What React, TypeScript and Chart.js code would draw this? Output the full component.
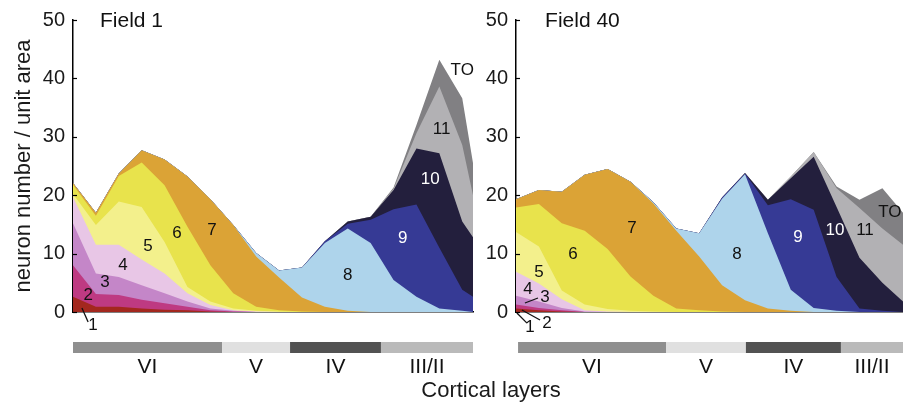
import React, { useEffect, useRef } from 'react';
import { Chart, registerables } from 'chart.js';

Chart.register(...registerables);

const FONT = '"Liberation Sans", Arial, Helvetica, sans-serif';

// ---------- shared ----------
const seriesNames = ['1', '2', '3', '4', '5', '6', '7', '8', '9', '10', '11', 'TO'];
const seriesColors = [
  '#a3281e', '#be3a82', '#c486c8', '#e8c6e6', '#f3f08c', '#e8e34c',
  '#dba336', '#aed4eb', '#363a95', '#231f3d', '#b2b1b4', '#818083',
];
const yTickValues = [0, 10, 20, 30, 40, 50];
const layerNames = ['VI', 'V', 'IV', 'III/II'];
const layerColors = ['#8f8f8f', '#e0e0e0', '#525252', '#bababa'];

// ---------- Field 1 ----------
const field1X = [0, 1, 2, 3, 4, 5, 6, 7, 8, 9, 10, 11, 12, 13, 14, 15, 16, 17, 17.47];
const f1_1 = [2.6, 0.9, 0.9, 0.6, 0.4, 0.3, 0.1, 0, 0, 0, 0, 0, 0, 0, 0, 0, 0, 0, 0];
const f1_2 = [5.4, 2.2, 2.0, 1.5, 1.1, 0.6, 0.2, 0.1, 0, 0, 0, 0, 0, 0, 0, 0, 0, 0, 0];
const f1_3 = [7.2, 3.5, 3.1, 2.5, 1.7, 0.9, 0.3, 0.1, 0, 0, 0, 0, 0, 0, 0, 0, 0, 0, 0];
const f1_4 = [4.5, 4.9, 5.5, 4.4, 3.4, 1.4, 0.6, 0.1, 0.1, 0, 0, 0, 0, 0, 0, 0, 0, 0, 0];
const f1_5 = [0.5, 3.4, 7.4, 9.0, 5.4, 1.1, 0.6, 0.3, 0.1, 0.1, 0, 0, 0, 0, 0, 0, 0, 0, 0];
const f1_6 = [1.6, 1.6, 4.4, 7.6, 9.7, 10.3, 6.2, 2.6, 0.7, 0.2, 0.1, 0, 0, 0, 0, 0, 0, 0, 0];
const f1_7 = [0.3, 0.5, 0.4, 2.1, 4.4, 8.6, 11.3, 11.7, 8.6, 5.6, 2.4, 0.9, 0.2, 0, 0, 0, 0, 0, 0];
const f1_8 = [0, 0, 0, 0, 0, 0, 0, 0, 0.6, 1.2, 5.1, 10.9, 14.1, 11.8, 5.5, 2.6, 0.6, 0.2, 0];
const f1_9 = [0, 0, 0, 0, 0, 0, 0, 0, 0, 0, 0, 0.3, 0.8, 4.0, 12.1, 15.8, 10.4, 3.6, 2.6];
const f1_10 = [0, 0, 0, 0, 0, 0, 0, 0, 0, 0, 0, 0, 0.4, 0.5, 3.3, 9.6, 16.2, 11.7, 10.2];
const f1_11 = [0, 0, 0, 0, 0, 0, 0, 0, 0, 0, 0, 0, 0, 0, 0.2, 2.6, 11.4, 13.1, 7.2];
const f1_TO = [0, 0, 0, 0, 0, 0, 0, 0, 0, 0, 0, 0, 0, 0, 0.2, 1.4, 4.6, 8.0, 5.5];
const field1LayerBounds = [0, 6.51, 9.48, 13.45, 17.47];

// ---------- Field 40 ----------
const field40X = [0, 1, 2, 3, 4, 5, 6, 7, 8, 9, 10, 11, 12, 13, 14, 15, 16, 16.9];
const f40_1 = [0.6, 0.3, 0.1, 0, 0, 0, 0, 0, 0, 0, 0, 0, 0, 0, 0, 0, 0, 0];
const f40_2 = [0.7, 0.4, 0.2, 0, 0, 0, 0, 0, 0, 0, 0, 0, 0, 0, 0, 0, 0, 0];
const f40_3 = [1.5, 1.1, 0.4, 0.1, 0, 0, 0, 0, 0, 0, 0, 0, 0, 0, 0, 0, 0, 0];
const f40_4 = [4.1, 3.1, 1.5, 0.2, 0.1, 0, 0, 0, 0, 0, 0, 0, 0, 0, 0, 0, 0, 0];
const f40_5 = [6.8, 6.3, 1.5, 1.0, 0.4, 0.2, 0.1, 0, 0, 0, 0, 0, 0, 0, 0, 0, 0, 0];
const f40_6 = [4.2, 7.3, 11.5, 12.6, 10.3, 5.9, 2.7, 0.6, 0.3, 0.1, 0, 0, 0, 0, 0, 0, 0, 0];
const f40_7 = [1.4, 2.4, 5.4, 9.6, 13.7, 16.2, 15.8, 13.3, 9.2, 4.5, 2.0, 0.6, 0.2, 0, 0, 0, 0, 0];
const f40_8 = [0, 0, 0, 0, 0, 0, 0.2, 0.4, 4.0, 14.8, 21.6, 12.9, 3.6, 0.7, 0.2, 0, 0, 0];
const f40_9 = [0, 0, 0, 0, 0, 0, 0, 0, 0, 0.2, 0.1, 4.8, 15.5, 16.8, 5.8, 0.6, 0.2, 0];
const f40_10 = [0, 0, 0, 0, 0, 0, 0, 0, 0, 0, 0.1, 0.9, 3.6, 9.1, 12.0, 8.7, 4.8, 1.8];
const f40_11 = [0, 0, 0, 0, 0, 0, 0, 0, 0, 0, 0, 0, 0.3, 0.8, 3.2, 8.5, 9.3, 9.7];
const f40_TO = [0, 0, 0, 0, 0, 0, 0, 0, 0, 0, 0, 0, 0, 0, 0.3, 1.4, 6.9, 5.5];
const field40LayerBounds = [0.09, 6.55, 10.04, 14.19, 16.9];

// area labels: [text, x, y, colour]
const field1Labels: [string, number, number, string][] = [
  ['1', 0.87, -2.2, '#111'], ['2', 0.66, 2.9, '#111'], ['3', 1.4, 5.0, '#111'],
  ['4', 2.18, 8.0, '#111'], ['5', 3.28, 11.3, '#111'], ['6', 4.54, 13.5, '#111'],
  ['7', 6.07, 14.0, '#111'], ['8', 12.0, 6.3, '#111'], ['9', 14.4, 12.7, '#fff'],
  ['10', 15.6, 22.8, '#fff'], ['11', 16.1, 31.3, '#111'], ['TO', 17.0, 41.3, '#111'],
];
const field1Leaders: [number, number, number, number][] = [[0.39, 0.68, 0.66, -1.71]];

const field40Labels: [string, number, number, string][] = [
  ['1', 0.61, -2.6, '#111'], ['2', 1.35, -1.9, '#111'], ['3', 1.27, 2.6, '#111'],
  ['4', 0.52, 3.8, '#111'], ['5', 1.0, 6.8, '#111'], ['6', 2.49, 9.8, '#111'],
  ['7', 5.07, 14.4, '#111'], ['8', 9.65, 9.8, '#111'], ['9', 12.31, 12.8, '#fff'],
  ['10', 13.93, 14.0, '#fff'], ['11', 15.24, 14.0, '#111'], ['TO', 16.33, 17.0, '#111'],
];
const field40Leaders: [number, number, number, number][] = [
  [0.04, -0.17, 0.48, -1.9],
  [0.26, 0.34, 1.05, -1.37],
  [0.39, 1.54, 0.96, 2.4],
];

type PanelDef = {
  title: string;
  titleX: number;
  xs: number[];
  series: number[][];
  bounds: number[];
  labels: [string, number, number, string][];
  leaders: [number, number, number, number][];
  axisWidth: number;
  canvasWidth: number;
  rightPad: number;
  showYTitle: boolean;
};

const field1: PanelDef = {
  title: 'Field 1', titleX: 1.18, xs: field1X,
  series: [f1_1, f1_2, f1_3, f1_4, f1_5, f1_6, f1_7, f1_8, f1_9, f1_10, f1_11, f1_TO],
  bounds: field1LayerBounds, labels: field1Labels, leaders: field1Leaders,
  axisWidth: 73, canvasWidth: 480, rightPad: 7, showYTitle: true,
};
const field40: PanelDef = {
  title: 'Field 40', titleX: 1.27, xs: field40X,
  series: [f40_1, f40_2, f40_3, f40_4, f40_5, f40_6, f40_7, f40_8, f40_9, f40_10, f40_11, f40_TO],
  bounds: field40LayerBounds, labels: field40Labels, leaders: field40Leaders,
  axisWidth: 36, canvasWidth: 423, rightPad: 0, showYTitle: false,
};

function makeDecor(p: PanelDef) {
  return {
    id: 'decor',
    afterDraw(chart: any) {
      const { ctx, chartArea } = chart;
      const x = chart.scales.x;
      const y = chart.scales.y;
      ctx.save();
      // inward tick marks
      ctx.strokeStyle = '#000';
      ctx.lineWidth = 1.2;
      for (const v of yTickValues) {
        const py = Math.round(y.getPixelForValue(v)) + 0.5;
        ctx.beginPath();
        ctx.moveTo(chartArea.left, py);
        ctx.lineTo(chartArea.left + 4, py);
        ctx.stroke();
      }
      // leader lines
      ctx.lineWidth = 1.3;
      ctx.strokeStyle = '#111';
      for (const [x1, y1, x2, y2] of p.leaders) {
        ctx.beginPath();
        ctx.moveTo(x.getPixelForValue(x1), y.getPixelForValue(y1));
        ctx.lineTo(x.getPixelForValue(x2), y.getPixelForValue(y2));
        ctx.stroke();
      }
      // area labels
      ctx.font = `17px ${FONT}`;
      ctx.textAlign = 'center';
      ctx.textBaseline = 'middle';
      for (const [t, lx, ly, c] of p.labels) {
        ctx.fillStyle = c;
        ctx.fillText(t, x.getPixelForValue(lx), y.getPixelForValue(ly));
      }
      // panel title
      ctx.font = `21px ${FONT}`;
      ctx.textAlign = 'left';
      ctx.fillStyle = '#111';
      ctx.fillText(p.title, x.getPixelForValue(p.titleX), y.getPixelForValue(50) + 1);
      // cortical layer bars
      const top = chartArea.bottom + 30;
      for (let i = 0; i < layerNames.length; i++) {
        const a = x.getPixelForValue(p.bounds[i]);
        const b = x.getPixelForValue(p.bounds[i + 1]);
        ctx.fillStyle = layerColors[i];
        ctx.fillRect(a, top, b - a, 11);
        ctx.fillStyle = '#111';
        ctx.font = `21px ${FONT}`;
        ctx.textAlign = 'center';
        ctx.fillText(layerNames[i], (a + b) / 2, chartArea.bottom + 55);
      }
      ctx.restore();
    },
  };
}

function Panel({ def, left }: { def: PanelDef; left: number }) {
  const ref = useRef<HTMLCanvasElement>(null);
  useEffect(() => {
    const chart = new Chart(ref.current as HTMLCanvasElement, {
      type: 'line',
      data: {
        datasets: seriesNames.map((n, i) => ({
          label: n,
          data: def.xs.map((xv, j) => ({ x: xv, y: def.series[i][j] })),
          backgroundColor: seriesColors[i],
          borderColor: 'rgba(0,0,0,0)',
          borderWidth: 0,
          pointRadius: 0,
          fill: 'origin',
          tension: 0,
        })),
      },
      options: {
        animation: false,
        responsive: false,
        devicePixelRatio: 1,
        layout: { padding: { top: 20, bottom: 92, left: 0, right: def.rightPad } },
        plugins: { legend: { display: false }, tooltip: { enabled: false } },
        scales: {
          x: {
            type: 'linear',
            min: 0,
            max: def.xs[def.xs.length - 1],
            z: 1,
            grid: { display: false, drawTicks: false },
            ticks: { display: false },
            border: { display: true, color: '#000', width: 1.5 },
            afterFit: (s: any) => { s.height = 0; },
          },
          y: {
            stacked: true,
            min: 0,
            max: 50,
            z: 1,
            grid: { display: false, drawTicks: false },
            border: { display: true, color: '#000', width: 1.5 },
            ticks: {
              stepSize: 10,
              padding: 8,
              color: '#1a1a1a',
              font: { size: 20, family: FONT },
            },
            title: {
              display: def.showYTitle,
              text: 'neuron number / unit area',
              color: '#1a1a1a',
              font: { size: 22, family: FONT },
              padding: { top: 11, bottom: 0 },
            },
            afterFit: (s: any) => { s.width = def.axisWidth; },
          },
        },
      } as any,
      plugins: [makeDecor(def)],
    });
    return () => chart.destroy();
  }, []);
  return (
    <div style={{ position: 'absolute', left, top: 0, width: def.canvasWidth, height: 404 }}>
      <canvas ref={ref} width={def.canvasWidth} height={404}
        style={{ width: def.canvasWidth, height: 404, display: 'block' }} />
    </div>
  );
}

export default function App() {
  return (
    <div style={{ position: 'absolute', left: 0, top: 0, width: 903, height: 404, background: '#fff', overflow: 'hidden' }}>
      <Panel def={field1} left={0} />
      <Panel def={field40} left={480} />
      <div style={{
        position: 'absolute', left: 341, top: 378, width: 300, textAlign: 'center',
        font: `22px ${FONT}`, lineHeight: '24px', color: '#1a1a1a',
      }}>Cortical layers</div>
    </div>
  );
}
